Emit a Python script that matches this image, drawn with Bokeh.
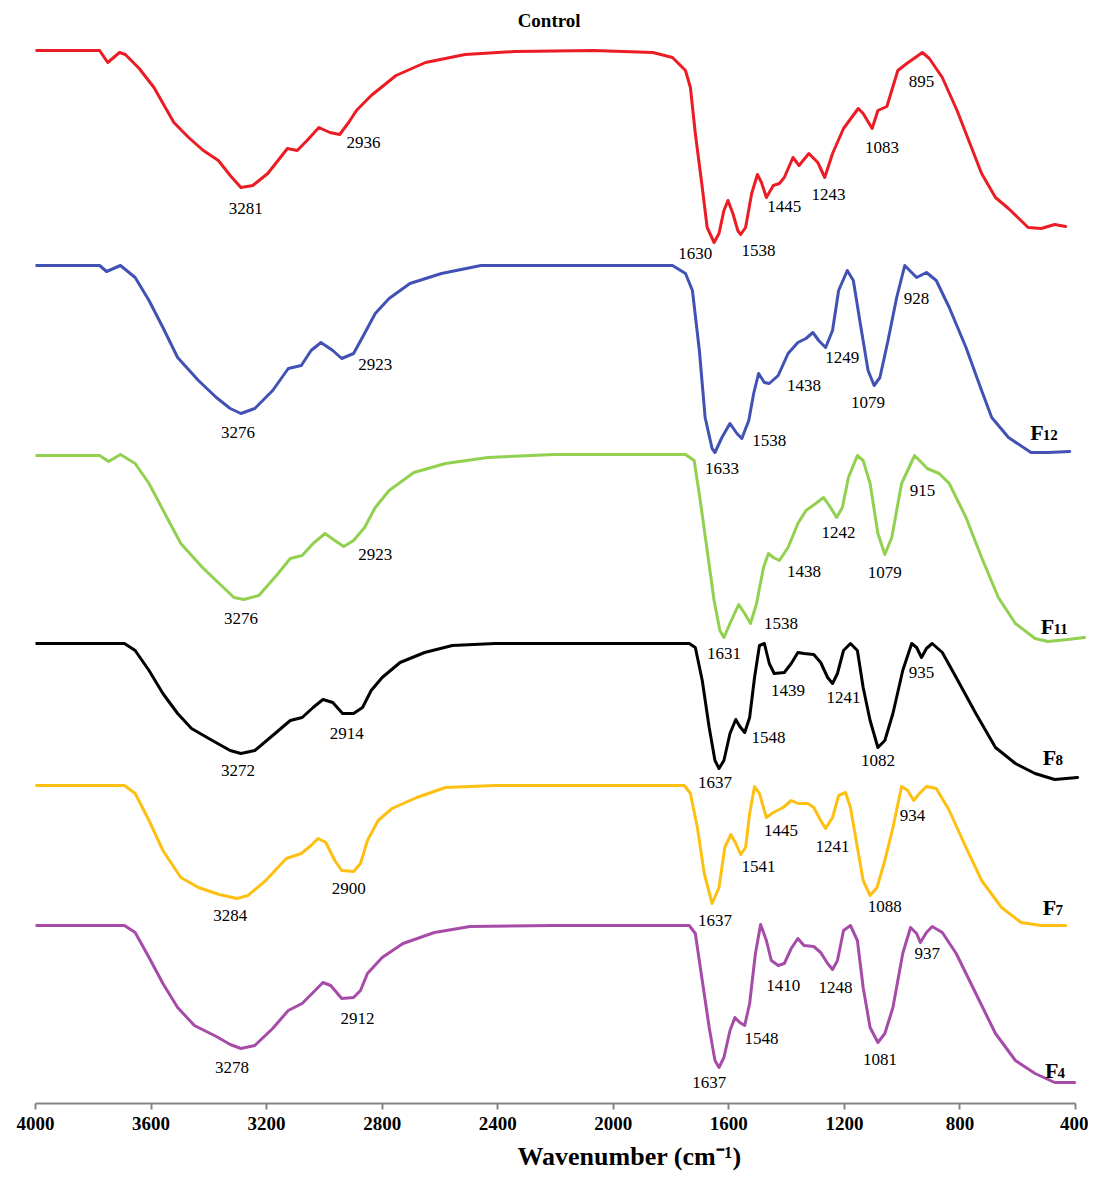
from bokeh.plotting import figure
from bokeh.models import Range1d, FixedTicker, ColumnDataSource, Title
from bokeh.core.properties import value
from bokeh.embed import file_html
from bokeh.resources import INLINE

# ---------------- data (wavenumber in cm-1, stacked transmittance in a.u.) ----------------
tick_values = [4000, 3600, 3200, 2800, 2400, 2000, 1600, 1200, 800, 400]

control_wn = [4000, 3778, 3750, 3709, 3689, 3641, 3590, 3521, 3470, 3419, 3367, 3326, 3289, 3248, 3196, 3128, 3094, 3060, 3019, 2981, 2947, 2916, 2889, 2838, 2752, 2650, 2513, 2342, 2068, 1863, 1795, 1750, 1733, 1716, 1692, 1675, 1651, 1634, 1617, 1603, 1586, 1569, 1559, 1542, 1521, 1501, 1487, 1470, 1446, 1425, 1408, 1378, 1357, 1323, 1292, 1268, 1241, 1203, 1152, 1135, 1104, 1084, 1053, 1015, 984, 930, 906, 861, 810, 725, 677, 632, 564, 519, 472, 434]
control_t = [1053, 1053, 1041, 1051, 1049, 1035, 1016, 981, 966, 953, 943, 928, 916, 918, 930, 955, 953, 963, 976, 971, 969, 981, 993, 1008, 1028, 1041, 1049, 1052, 1053, 1051, 1046, 1033, 1016, 970, 916, 876, 861, 870, 893, 903, 890, 873, 869, 876, 910, 929, 921, 906, 918, 920, 926, 946, 938, 950, 941, 926, 950, 975, 995, 990, 975, 993, 997, 1033, 1040, 1051, 1045, 1026, 993, 930, 906, 895, 876, 875, 879, 877]

f12_wn = [4000, 3778, 3754, 3706, 3655, 3607, 3559, 3508, 3436, 3374, 3326, 3289, 3241, 3179, 3125, 3080, 3046, 3012, 2971, 2940, 2899, 2861, 2824, 2776, 2704, 2595, 2458, 2205, 1863, 1795, 1750, 1726, 1702, 1682, 1658, 1648, 1624, 1596, 1572, 1555, 1531, 1514, 1497, 1477, 1460, 1429, 1395, 1361, 1333, 1309, 1289, 1265, 1241, 1220, 1190, 1169, 1145, 1118, 1097, 1077, 1049, 1019, 991, 974, 950, 916, 882, 837, 779, 725, 690, 632, 554, 495, 420]
f12_t = [838, 838, 832, 838, 826, 803, 776, 746, 723, 706, 695, 690, 695, 713, 735, 738, 753, 761, 753, 745, 750, 770, 790, 805, 820, 830, 838, 838, 838, 838, 830, 813, 753, 686, 655, 651, 666, 680, 670, 665, 683, 710, 730, 721, 720, 728, 750, 761, 765, 771, 763, 756, 773, 813, 833, 823, 780, 733, 718, 726, 763, 806, 838, 833, 826, 831, 823, 796, 756, 713, 686, 666, 651, 651, 652]

f11_wn = [4000, 3778, 3747, 3706, 3655, 3607, 3545, 3497, 3422, 3364, 3313, 3279, 3227, 3166, 3118, 3077, 3039, 2998, 2964, 2933, 2899, 2861, 2824, 2776, 2690, 2581, 2434, 2205, 1863, 1750, 1720, 1699, 1675, 1651, 1631, 1617, 1596, 1566, 1545, 1525, 1504, 1480, 1463, 1446, 1425, 1395, 1361, 1333, 1299, 1272, 1248, 1227, 1207, 1186, 1155, 1135, 1111, 1084, 1060, 1036, 1002, 957, 933, 913, 872, 837, 779, 725, 667, 608, 540, 495, 427, 369]
f11_t = [648, 648, 642, 649, 640, 620, 586, 560, 536, 520, 506, 504, 508, 528, 545, 548, 560, 570, 563, 557, 563, 576, 596, 613, 631, 640, 646, 649, 649, 649, 643, 603, 553, 503, 473, 466, 480, 499, 490, 480, 500, 536, 550, 546, 543, 556, 580, 593, 600, 606, 596, 586, 596, 626, 648, 643, 620, 570, 549, 566, 620, 648, 641, 635, 630, 620, 586, 546, 506, 480, 465, 462, 464, 466]

f8_wn = [4000, 3692, 3655, 3607, 3559, 3508, 3460, 3388, 3326, 3289, 3241, 3179, 3118, 3077, 3039, 3005, 2971, 2937, 2899, 2868, 2838, 2800, 2738, 2653, 2557, 2410, 2205, 1863, 1737, 1716, 1692, 1668, 1648, 1634, 1617, 1596, 1576, 1562, 1545, 1528, 1511, 1494, 1477, 1460, 1443, 1408, 1384, 1361, 1340, 1306, 1282, 1258, 1241, 1224, 1203, 1179, 1155, 1135, 1111, 1084, 1060, 1032, 998, 967, 950, 933, 916, 896, 861, 813, 745, 677, 608, 540, 472, 393]
f8_t = [460, 460, 453, 433, 410, 390, 375, 363, 353, 350, 353, 368, 383, 386, 396, 404, 401, 390, 390, 396, 413, 426, 441, 451, 458, 460, 460, 460, 460, 456, 423, 376, 343, 335, 343, 370, 384, 377, 371, 386, 426, 458, 460, 440, 430, 431, 440, 451, 450, 449, 441, 426, 420, 430, 453, 460, 453, 416, 383, 356, 363, 390, 433, 460, 456, 446, 455, 460, 451, 426, 390, 356, 340, 330, 324, 326]

f7_wn = [4000, 3692, 3655, 3607, 3559, 3497, 3436, 3364, 3303, 3265, 3203, 3132, 3080, 3046, 3022, 2995, 2964, 2940, 2899, 2875, 2851, 2814, 2766, 2680, 2581, 2410, 2205, 1863, 1754, 1733, 1709, 1685, 1658, 1634, 1614, 1593, 1576, 1559, 1542, 1528, 1511, 1494, 1470, 1446, 1412, 1384, 1361, 1326, 1306, 1282, 1265, 1241, 1220, 1196, 1179, 1155, 1135, 1111, 1087, 1060, 1032, 1002, 981, 960, 940, 916, 882, 837, 779, 725, 656, 588, 519, 434]
f7_t = [318, 318, 310, 283, 253, 226, 216, 209, 205, 208, 223, 245, 250, 258, 265, 261, 243, 233, 232, 240, 263, 283, 295, 306, 316, 318, 318, 318, 318, 310, 276, 230, 200, 216, 256, 269, 260, 249, 256, 290, 317, 310, 286, 291, 296, 303, 300, 300, 296, 283, 275, 286, 308, 311, 296, 256, 223, 208, 216, 243, 276, 317, 313, 303, 310, 317, 315, 293, 256, 223, 196, 181, 178, 178]

f4_wn = [4000, 3692, 3655, 3607, 3559, 3508, 3450, 3374, 3326, 3289, 3241, 3179, 3125, 3077, 3039, 3005, 2978, 2940, 2899, 2875, 2851, 2800, 2728, 2619, 2496, 2205, 1863, 1737, 1716, 1692, 1668, 1648, 1634, 1617, 1596, 1579, 1562, 1545, 1528, 1508, 1490, 1470, 1453, 1429, 1408, 1384, 1361, 1340, 1306, 1282, 1258, 1241, 1224, 1203, 1179, 1155, 1135, 1111, 1084, 1060, 1032, 998, 971, 950, 937, 916, 896, 861, 813, 745, 677, 608, 540, 472, 403]
f4_t = [178, 178, 171, 146, 120, 96, 78, 67, 59, 55, 58, 75, 93, 100, 111, 121, 118, 105, 106, 113, 130, 146, 160, 171, 177, 178, 178, 178, 170, 123, 76, 43, 36, 46, 73, 86, 81, 78, 100, 150, 179, 163, 143, 138, 140, 155, 165, 158, 157, 151, 140, 134, 143, 173, 178, 163, 116, 76, 61, 70, 96, 150, 176, 170, 161, 171, 177, 171, 150, 110, 70, 43, 30, 21, 21]

# peak annotations (text, anchor wavenumber, anchor level)
control_peak_text = ["3281", "2936", "1630", "1538", "1445", "1243", "1083", "895"]
control_peak_wn = [3272, 2865, 1716, 1497, 1408, 1255, 1070, 933]
control_peak_t = [895, 961, 850, 853, 897, 909, 956, 1022]

f12_peak_text = ["3276", "2923", "1633", "1538", "1438", "1249", "1079", "928"]
f12_peak_wn = [3299, 2824, 1624, 1460, 1340, 1207, 1118, 950]
f12_peak_t = [671, 739, 635, 663, 718, 746, 701, 805]

f11_peak_text = ["3276", "2923", "1631", "1538", "1438", "1242", "1079", "915"]
f11_peak_wn = [3289, 2824, 1617, 1419, 1340, 1220, 1060, 930]
f11_peak_t = [485, 549, 450, 480, 532, 571, 531, 613]

f8_peak_text = ["3272", "2914", "1637", "1548", "1439", "1241", "1082", "935"]
f8_peak_wn = [3299, 2923, 1648, 1463, 1395, 1203, 1084, 933]
f8_peak_t = [333, 370, 321, 366, 413, 406, 343, 431]

f7_peak_text = ["3284", "2900", "1637", "1541", "1445", "1241", "1088", "934"]
f7_peak_wn = [3326, 2916, 1648, 1497, 1419, 1241, 1060, 964]
f7_peak_t = [188, 215, 183, 237, 273, 257, 197, 288]

f4_peak_text = ["3278", "2912", "1637", "1548", "1410", "1248", "1081", "937"]
f4_peak_wn = [3320, 2885, 1668, 1487, 1412, 1231, 1077, 913]
f4_peak_t = [36, 85, 21, 65, 118, 116, 44, 150]

# sample names (F with subscript number)
name_main = ["F", "F", "F", "F", "F"]
name_sub = ["12", "11", "8", "7", "4"]
name_wn = [557, 520, 513, 513, 506]
name_t = [671, 477, 346, 196, 33]
sub_wn = [513, 476, 469, 469, 462]
sub_t = [669, 475, 344, 194, 31]

control_name = "Control"
control_name_wn = 2222
control_name_t = 1083

x_title = "Wavenumber (cm\u207b\u00b9)"

colors = ["#ec1c24", "#4252b4", "#92d050", "#000000", "#fdc012", "#a64ca8"]

# ---------------- figure ----------------
SERIF = "Liberation Serif"

p = figure(width=1088, height=1180,
           x_range=Range1d(4000, 355), y_range=Range1d(0, 1095),
           output_backend="svg", toolbar_location=None, y_axis_location=None,
           min_border_left=35, min_border_right=0, min_border_top=8,
           min_border_bottom=77, outline_line_color=None,
           background_fill_color="white", border_fill_color="white")
p.grid.visible = False

ax = p.xaxis[0]
ax.ticker = FixedTicker(ticks=tick_values)
ax.bounds = (400, 4000)
ax.minor_tick_line_color = None
ax.major_tick_in = 0
ax.major_tick_out = 6
ax.axis_line_color = "#858585"
ax.axis_line_width = 2
ax.major_tick_line_color = "#858585"
ax.major_tick_line_width = 2
ax.major_label_text_font = SERIF
ax.major_label_text_font_style = "bold"
ax.major_label_text_font_size = "19px"
ax.major_label_text_color = "black"
ax.major_label_standoff = 7

series = [
    (control_wn, control_t, control_peak_text, control_peak_wn, control_peak_t),
    (f12_wn, f12_t, f12_peak_text, f12_peak_wn, f12_peak_t),
    (f11_wn, f11_t, f11_peak_text, f11_peak_wn, f11_peak_t),
    (f8_wn, f8_t, f8_peak_text, f8_peak_wn, f8_peak_t),
    (f7_wn, f7_t, f7_peak_text, f7_peak_wn, f7_peak_t),
    (f4_wn, f4_t, f4_peak_text, f4_peak_wn, f4_peak_t),
]

for (wn, t, ptxt, pwn, pt), c in zip(series, colors):
    p.line(wn, t, line_color=c, line_width=3, line_join="round", line_cap="round")
    src = ColumnDataSource(dict(x=pwn, y=pt, text=ptxt))
    p.text(x="x", y="y", text="text", source=src,
           text_font=value(SERIF), text_font_size=value("17px"),
           text_align="center", text_baseline="middle", text_color="black")

# sample names with subscripts
p.text(x=name_wn, y=name_t, text=name_main, text_font=value(SERIF),
       text_font_size=value("22px"), text_font_style="bold",
       text_align="left", text_baseline="alphabetic", text_color="black")
p.text(x=sub_wn, y=sub_t, text=name_sub, text_font=value(SERIF),
       text_font_size=value("15px"), text_font_style="bold",
       text_align="left", text_baseline="alphabetic", text_color="black")
p.text(x=[control_name_wn], y=[control_name_t], text=[control_name],
       text_font=value(SERIF), text_font_size=value("19px"), text_font_style="bold",
       text_align="center", text_baseline="middle", text_color="black")

xt = Title(text=x_title, align="left", offset=482, standoff=14,
           text_font=SERIF, text_font_style="bold", text_font_size="26px",
           text_color="black")
p.add_layout(xt, "below")

open("out.html", "w").write(file_html(p, INLINE))
